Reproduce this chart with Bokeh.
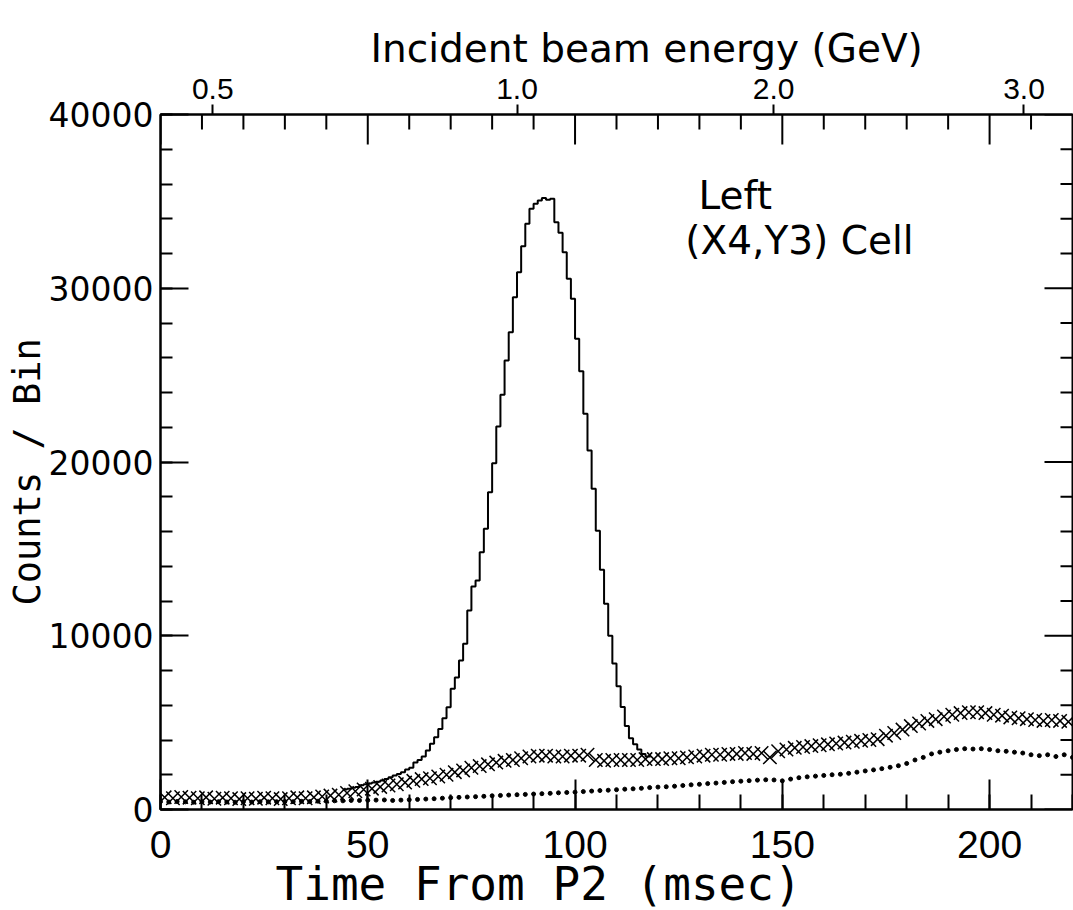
import math
from bokeh.plotting import figure
from bokeh.models import Range1d, LinearAxis, FixedTicker, SingleIntervalTicker, Label, Title
from bokeh.embed import file_html
from bokeh.resources import INLINE

# ---------------- data ----------------
# solid histogram: left bin edges (msec) and counts per 1-msec bin
hist_x = list(range(44, 119))
hist_counts = [1150, 1200, 1250, 1300, 1400, 1450, 1500, 1550, 1600, 1670,
               1750, 1850, 1950, 2050, 2150, 2300, 2400, 2700, 2850, 3050,
               3400, 3780, 4160, 4640, 5250, 5890, 6950, 7600, 8575, 9535,
               11450, 12830, 13180, 14800, 16154, 18263, 19933, 22043, 23866, 25842,
               27472, 29487, 30926, 32422, 33707, 34570, 34858, 35050, 35200, 35100,
               35150, 33800, 33190, 32070, 30540, 29390, 27090, 25230, 22770, 20660,
               18460, 16050, 13800, 11836, 10000, 8400, 7100, 5900, 4800, 4100,
               3750, 3450, 3200, 3050, 3000]

# cross-marker series (every 2 msec, starting at 1)
cross_x = list(range(1, 221, 2))
cross_counts = [700, 650, 720, 680, 650, 700, 620, 680, 650, 600,
                650, 620, 680, 650, 600, 650, 700, 650, 700, 750,
                800, 850, 950, 1050, 1150, 1200, 1300, 1380, 1450, 1550,
                1650, 1750, 1800, 1900, 2000, 2150, 2250, 2400, 2500, 2600,
                2700, 2800, 2850, 2950, 3050, 3100, 3100, 3050, 3050, 3100,
                3100, 3150, 2850, 2800, 2850, 2850, 2850, 2850, 2900, 2900,
                2900, 2950, 2950, 3000, 3050, 3100, 3150, 3150, 3200, 3200,
                3250, 3200, 3250, 3000, 3350, 3450, 3550, 3600, 3650, 3700,
                3750, 3800, 3850, 3900, 3950, 4000, 4050, 4250, 4400, 4600,
                4800, 4950, 5100, 5200, 5350, 5450, 5550, 5600, 5600, 5550,
                5450, 5400, 5300, 5250, 5200, 5150, 5100, 5150, 5100, 5050]

# dotted series (every 2 msec, starting at 0)
dot_x = list(range(0, 221, 2))
dot_counts = [450, 430, 460, 440, 420, 450, 430, 450, 430, 420,
              450, 430, 450, 440, 450, 460, 450, 470, 460, 480,
              480, 500, 500, 520, 520, 530, 540, 550, 520, 540,
              560, 580, 600, 620, 650, 680, 700, 720, 740, 760,
              790, 810, 830, 850, 870, 890, 910, 930, 960, 980,
              1000, 1030, 1060, 1090, 1110, 1140, 1170, 1190, 1220, 1260,
              1290, 1310, 1340, 1380, 1420, 1450, 1490, 1520, 1560, 1600,
              1630, 1660, 1690, 1710, 1700, 1650, 1750, 1830, 1880, 1920,
              1960, 2000, 2030, 2080, 2150, 2220, 2280, 2350, 2430, 2520,
              2650, 2850, 3000, 3200, 3300, 3380, 3450, 3500, 3480, 3500,
              3450, 3380, 3350, 3300, 3250, 3150, 3100, 3150, 3050, 3150,
              3000]

# axis ticks
X_MAX, Y_MAX = 220, 40000
x_major_ticks = [0, 50, 100, 150, 200]
x_minor_ticks = [v for v in range(10, 220, 10) if v % 50]
y_major_ticks = [0, 10000, 20000, 30000, 40000]
y_minor_ticks = [v for v in range(2000, 40000, 2000) if v % 10000]

# top axis: incident beam energy tick positions (in msec) and labels
energy_tick_pos = [12.6, 86.0, 147.9, 208.3]
energy_tick_labels = ["0.5", "1.0", "2.0", "3.0"]

# texts
x_title = "Time From P2 (msec)"
y_title = "Counts / Bin"
top_title = "Incident beam energy (GeV)"
note_line1 = "Left"
note_line2 = "(X4,Y3) Cell"
note1_pos = (129.8, 35340)
note2_pos = (126.6, 32750)

# ---------------- figure ----------------
p = figure(width=1073, height=910,
           x_range=Range1d(0, X_MAX), y_range=Range1d(0, Y_MAX),
           output_backend="svg", toolbar_location=None,
           x_axis_location=None, y_axis_location=None,
           min_border_left=160, min_border_right=1,
           min_border_top=114, min_border_bottom=101)
p.grid.visible = False
p.background_fill_color = "white"
p.border_fill_color = "white"
p.outline_line_color = "black"
p.outline_line_width = 2


def style_ticks(ax, major_in, minor_in):
    ax.major_tick_in = major_in
    ax.major_tick_out = 0
    ax.minor_tick_in = minor_in
    ax.minor_tick_out = 0
    ax.axis_line_width = 2
    ax.major_tick_line_width = 2
    ax.minor_tick_line_width = 2
    ax.axis_line_color = "black"
    ax.major_tick_line_color = "black"
    ax.minor_tick_line_color = "black"


def title(text, font, size, **kw):
    return Title(text=text, text_font=font, text_font_size=size,
                 text_font_style="normal", text_color="black", align="left", **kw)


# bottom axis
xb = LinearAxis(ticker=SingleIntervalTicker(interval=50, num_minor_ticks=5))
style_ticks(xb, 30, 15)
xb.major_label_text_font = "Liberation Sans"
xb.major_label_text_font_size = "39px"
xb.major_label_text_color = "black"
xb.major_label_standoff = 21
p.add_layout(xb, "below")
p.add_layout(title(x_title, "DejaVu Sans Mono", "46px", offset=115, standoff=-12,
                   vertical_align="bottom"), "below")

# left axis
yl = LinearAxis(ticker=SingleIntervalTicker(interval=10000, num_minor_ticks=5))
style_ticks(yl, 28, 12)
yl.major_label_text_font = "DejaVu Sans"
yl.major_label_text_font_size = "33px"
yl.major_label_text_color = "black"
yl.major_label_standoff = 7
p.add_layout(yl, "left")
p.add_layout(title(y_title, "DejaVu Sans Mono", "37px", offset=204, standoff=-11,
                   vertical_align="top"), "left")

# top axis: energy scale
xt = LinearAxis(ticker=FixedTicker(ticks=energy_tick_pos, minor_ticks=[]))
xt.major_label_overrides = {pos: lab for pos, lab in zip(energy_tick_pos, energy_tick_labels)}
xt.major_tick_in = 0
xt.major_tick_out = 10
xt.major_tick_line_width = 2
xt.major_tick_line_color = "black"
xt.axis_line_width = 2
xt.axis_line_color = "black"
xt.major_label_text_font = "Liberation Sans"
xt.major_label_text_font_size = "30px"
xt.major_label_text_color = "black"
xt.major_label_standoff = 6
p.add_layout(xt, "above")

# empty spacer between the energy scale and its title
spacer = LinearAxis(ticker=FixedTicker(ticks=[], minor_ticks=[]))
spacer.major_tick_out = 14
spacer.major_tick_in = 0
spacer.minor_tick_out = 0
spacer.major_label_standoff = 0
spacer.axis_line_color = None
spacer.major_tick_line_color = None
spacer.minor_tick_line_color = None
p.add_layout(spacer, "above")

p.add_layout(title(top_title, "DejaVu Sans", "39px", offset=210, standoff=10,
                   vertical_align="bottom"), "above")

# inward ticks on the right and top frame edges (mirroring left/bottom)
for ys, ln in ((y_major_ticks, 28), (y_minor_ticks, 12)):
    p.ray(x=[X_MAX] * len(ys), y=ys, length=ln, length_units="screen",
          angle=math.pi, line_color="black", line_width=2)
for xs, ln in ((x_major_ticks, 30), (x_minor_ticks, 15)):
    p.ray(x=xs, y=[Y_MAX] * len(xs), length=ln, length_units="screen",
          angle=-math.pi / 2, line_color="black", line_width=2)

# ---------------- data marks ----------------
p.scatter(dot_x, dot_counts, marker="circle", size=4, color="black")
p.step(hist_x, hist_counts, mode="after", line_color="black", line_width=2)
p.scatter(cross_x, cross_counts, marker="x", size=19, line_color="black", line_width=1.5)

# ---------------- annotations ----------------
for (tx, ty), txt in ((note1_pos, note_line1), (note2_pos, note_line2)):
    p.add_layout(Label(x=tx, y=ty, text=txt, text_font="DejaVu Sans", text_font_size="39px",
                       text_color="black", text_align="left", text_baseline="middle"))

open("out.html", "w").write(file_html(p, INLINE))
